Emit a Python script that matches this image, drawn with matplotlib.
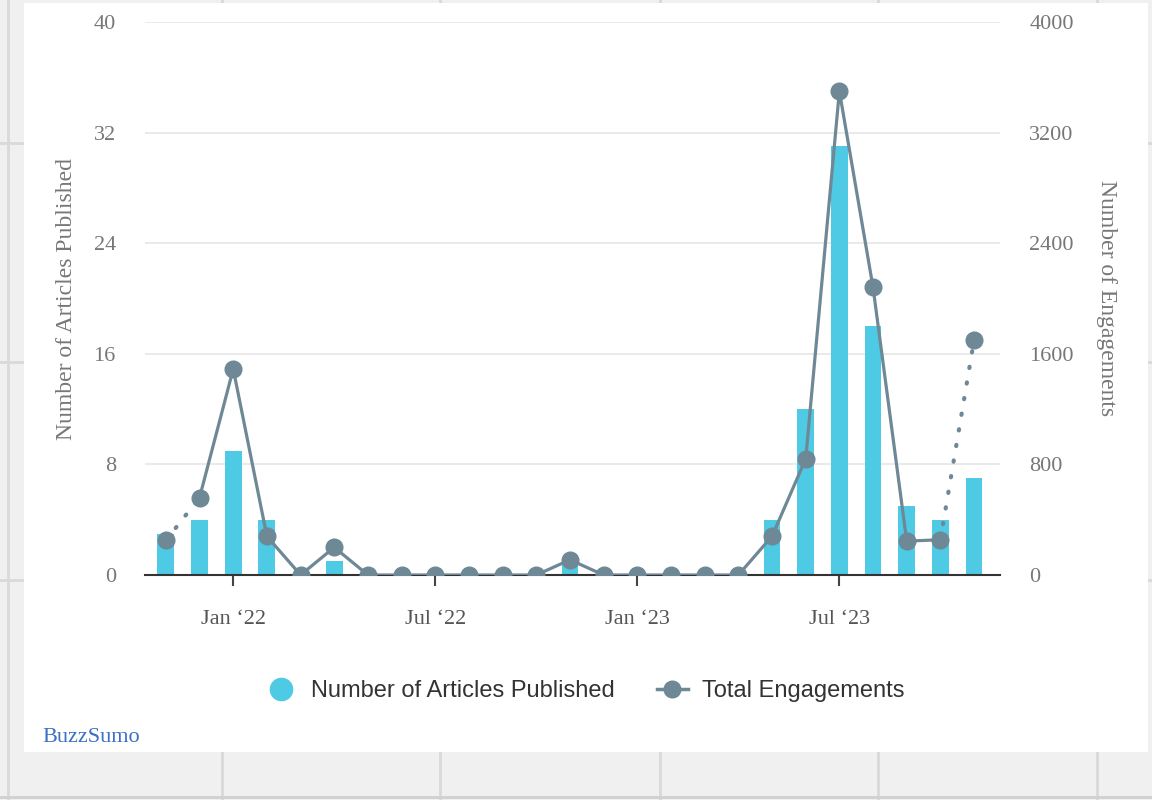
import numpy as np
import matplotlib.pyplot as plt
from matplotlib.lines import Line2D
from matplotlib.patches import Rectangle

months = ["Nov '21", "Dec '21", "Jan '22", "Feb '22", "Mar '22", "Apr '22",
          "May '22", "Jun '22", "Jul '22", "Aug '22", "Sep '22", "Oct '22",
          "Nov '22", "Dec '22", "Jan '23", "Feb '23", "Mar '23", "Apr '23",
          "May '23", "Jun '23", "Jul '23", "Aug '23", "Sep '23", "Oct '23",
          "Nov '23"]
articles = [3, 4, 9, 4, 0, 1, 0, 0, 0, 0, 0, 0, 1, 0, 0, 0, 0, 0,
            4, 12, 31, 18, 5, 4, 7]
engagements = [250, 560, 1490, 280, 0, 200, 0, 0, 0, 0, 0, 0, 110, 0, 0, 0, 0, 0,
               280, 840, 3500, 2080, 245, 255, 1700]
tick_months = ["Jan '22", "Jul '22", "Jan '23", "Jul '23"]
tick_labels = ["Jan \u201822", "Jul \u201822", "Jan \u201823", "Jul \u201823"]

bar_color = "#4ecae4"
line_color = "#6e8896"
text_grey = "#777777"
serif = "Liberation Serif"

x = np.arange(len(months))

fig = plt.figure(figsize=(11.52, 8), dpi=100, facecolor="#f0f0f0")

# page background: cell grid and white panel behind the chart
for xv in [8, 222, 440, 660, 878, 1097]:
    fig.add_artist(Line2D([xv / 1152, xv / 1152], [0, 1], color="#d9d9d9", lw=2, zorder=-3))
for yv in [143, 362, 580]:
    fig.add_artist(Line2D([0, 1], [1 - yv / 800, 1 - yv / 800], color="#d9d9d9", lw=2, zorder=-3))
fig.add_artist(Line2D([0, 1], [3 / 800, 3 / 800], color="#d0d0d0", lw=2, zorder=-3))
fig.add_artist(Rectangle((24 / 1152, 1 - 752 / 800), (1148 - 24) / 1152, 749 / 800,
                         transform=fig.transFigure, facecolor="white", edgecolor="none", zorder=-2))

ax = fig.add_axes([145 / 1152, 1 - 575 / 800, 855 / 1152, 553 / 800])
ax.set_facecolor("none")
ax2 = ax.twinx()

ax.bar(x, articles, width=0.5, color=bar_color, zorder=2)
ax.set_ylim(0, 40)
ax.set_yticks(np.arange(0, 41, 8))
ax.set_xlim(-0.62, 24.77)
ax.grid(axis="y", color="#e6e6e6", lw=1.2, zorder=0)
ax.set_axisbelow(True)

ax2.set_ylim(0, 4000)
ax2.set_yticks(np.arange(0, 4001, 800))

# solid line for full months, dotted for the partial months at the ends
ax2.plot(x[1:-1], engagements[1:-1], color=line_color, lw=2.3, zorder=3)
ax2.plot(x[:2], engagements[:2], color=line_color, lw=3, ls=(0, (0.3, 3.5)),
         dash_capstyle="round", zorder=3)
ax2.plot(x[-2:], engagements[-2:], color=line_color, lw=3, ls=(0, (0.3, 3.5)),
         dash_capstyle="round", zorder=3)
ax2.plot(x, engagements, ls="none", marker="o", ms=12, color=line_color, zorder=4)

tick_pos = [months.index(m) for m in tick_months]
ax.set_xticks(tick_pos)
ax.set_xticklabels(tick_labels, fontfamily=serif, fontsize=16, color="#555555")
ax.tick_params(axis="x", length=8, width=1.5, color="#444444", pad=17)

for a in (ax, ax2):
    for s in a.spines.values():
        s.set_visible(False)
    a.tick_params(axis="y", length=0, labelsize=16, labelcolor=text_grey, pad=21)
    for lab in a.get_yticklabels():
        lab.set_fontfamily(serif)
ax.spines["bottom"].set_visible(True)
ax.spines["bottom"].set_color("#333333")
ax.spines["bottom"].set_linewidth(1.5)

ax.set_ylabel("Number of Articles Published", fontfamily=serif, fontsize=17,
              color=text_grey, labelpad=12)
ax2.set_ylabel("Number of Engagements", fontfamily=serif, fontsize=17,
               color=text_grey, rotation=270, labelpad=31)

handles = [
    Line2D([], [], ls="none", marker="o", ms=16, color=bar_color),
    Line2D([], [], color=line_color, lw=2.5, marker="o", ms=12),
]
fig.legend(handles, ["Number of Articles Published", "Total Engagements"],
           loc="center", bbox_to_anchor=(585 / 1152, 1 - 691 / 800), ncol=2,
           frameon=False, prop={"family": "Liberation Sans", "size": 17},
           handlelength=1.3, handletextpad=0.6, columnspacing=1.8,
           labelcolor="#333333")

fig.text(42 / 1152, 1 - 738 / 800, "BuzzSumo", fontfamily=serif, fontsize=16,
         color="#3a6fc4", va="center", ha="left")

fig.savefig("out.png", dpi=100, facecolor=fig.get_facecolor())
